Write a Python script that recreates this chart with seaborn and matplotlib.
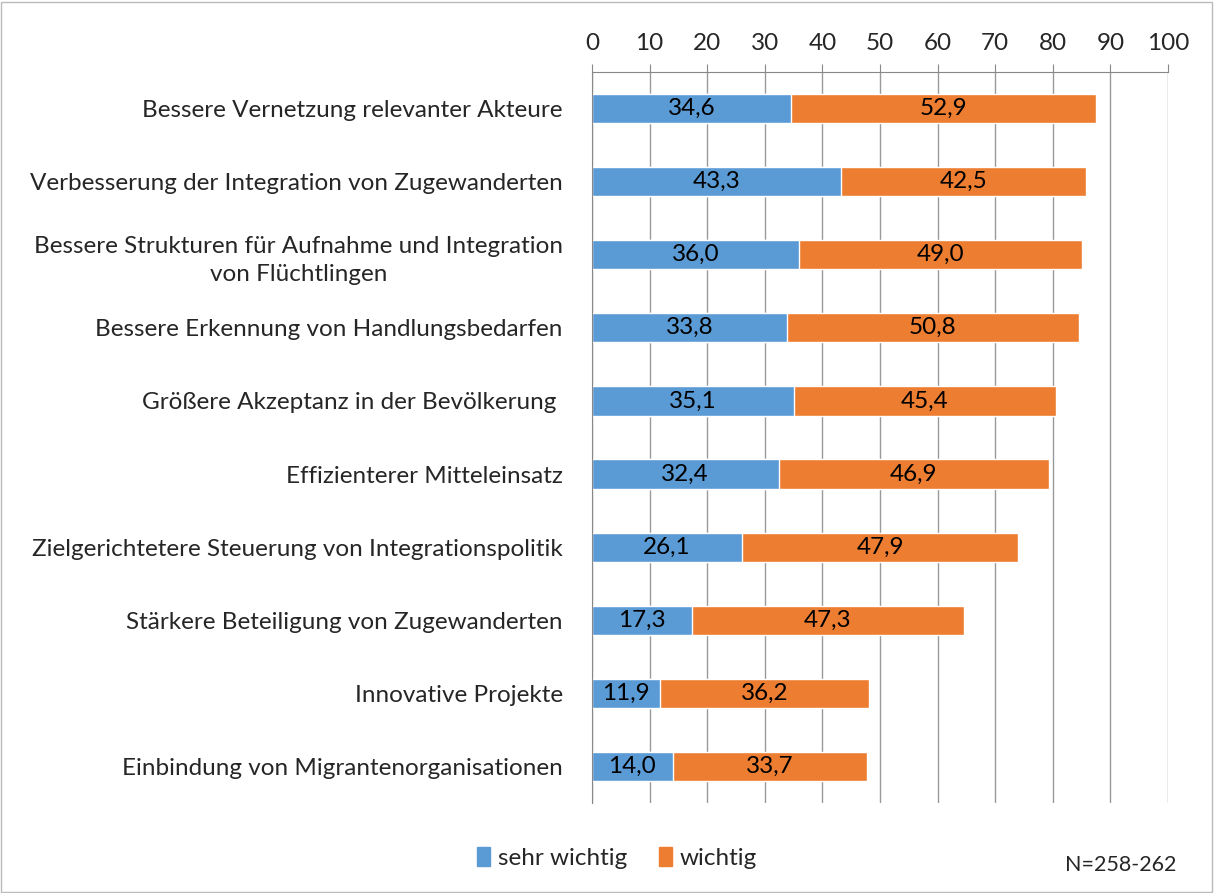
import pandas as pd
import seaborn as sns
import matplotlib.pyplot as plt
from matplotlib.patches import Rectangle, Patch

# Data
categories = [
    'Bessere Vernetzung relevanter Akteure',
    'Verbesserung der Integration von Zugewanderten',
    'Bessere Strukturen für Aufnahme und Integration\nvon Flüchtlingen',
    'Bessere Erkennung von Handlungsbedarfen',
    'Größere Akzeptanz in der Bevölkerung ',
    'Effizienterer Mitteleinsatz',
    'Zielgerichtetere Steuerung von Integrationspolitik',
    'Stärkere Beteiligung von Zugewanderten',
    'Innovative Projekte',
    'Einbindung von Migrantenorganisationen',
]
sehr_wichtig = [34.6, 43.3, 36.0, 33.8, 35.1, 32.4, 26.1, 17.3, 11.9, 14.0]
wichtig = [52.9, 42.5, 49.0, 50.8, 45.4, 46.9, 47.9, 47.3, 36.2, 33.7]

df = pd.DataFrame({'kategorie': categories, 'sehr wichtig': sehr_wichtig, 'wichtig': wichtig})
df['gesamt'] = df['sehr wichtig'] + df['wichtig']

blue = '#5b9bd5'
orange = '#ed7d31'
fs = 17.5

sns.set_style('white')
plt.rcParams['font.family'] = ['Lato', 'DejaVu Sans']

fig = plt.figure(figsize=(12.14, 8.93), dpi=100)
ax = fig.add_axes([0.4876, 0.1008, 0.4745, 0.8186])

# Orange bar spans the total, blue bar drawn on top from zero
sns.barplot(data=df, y='kategorie', x='gesamt', color=orange, width=0.4, ax=ax, saturation=1)
sns.barplot(data=df, y='kategorie', x='sehr wichtig', color=blue, width=0.4, ax=ax, saturation=1)

# Centered value labels
blue_bars = ax.containers[1]
for i, b in enumerate(blue_bars):
    y = b.get_y() + b.get_height() / 2
    ax.text(sehr_wichtig[i] / 2, y, f'{sehr_wichtig[i]:.1f}'.replace('.', ','),
            ha='center', va='center', fontsize=fs, color='black')
    ax.text(sehr_wichtig[i] + wichtig[i] / 2, y, f'{wichtig[i]:.1f}'.replace('.', ','),
            ha='center', va='center', fontsize=fs, color='black')

ax.set_xlim(0, 100)
ax.set_ylim(9.5, -0.5)
ax.set_xticks(range(0, 101, 10))
ax.xaxis.tick_top()
ax.tick_params(axis='x', labelsize=fs, length=6, color='#888888', pad=7)
ax.set_xlabel('')
ax.set_ylabel('')
ax.grid(axis='x', color='#999999', linewidth=1)
ax.set_axisbelow(True)

# Category labels without ticks; boundary ticks on the left
ax.set_yticks(range(len(categories)))
ax.set_yticklabels(categories, fontsize=fs, ha='right', multialignment='center')
for lbl in ax.get_yticklabels():
    lbl.set_linespacing(1.45)
ax.tick_params(axis='y', length=0, pad=21)
ax.set_yticks([i - 0.5 for i in range(len(categories) + 1)], minor=True)
ax.tick_params(axis='y', which='minor', length=6.5, color='#888888', width=1)

for side in ['right', 'bottom']:
    ax.spines[side].set_visible(False)
ax.spines['left'].set_color('#888888')
ax.spines['top'].set_color('#888888')

handles = [Patch(color=blue, label='sehr wichtig'), Patch(color=orange, label='wichtig')]
fig.legend(handles=handles, loc='center', bbox_to_anchor=(0.508, 0.039), ncol=2, frameon=False,
           fontsize=fs, handlelength=0.55, handleheight=0.8, handletextpad=0.3, columnspacing=1.3)
fig.text(0.969, 0.031, 'N=258-262', ha='right', va='center', fontsize=15.5)

fig.patches.append(Rectangle((0.001, 0.001), 0.997, 0.997, transform=fig.transFigure,
                             fill=False, edgecolor='#bbbbbb', linewidth=1))

fig.savefig('out.png', dpi=100)
